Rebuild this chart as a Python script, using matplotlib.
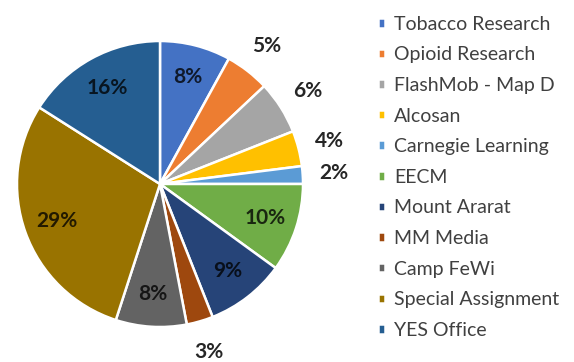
import numpy as np
import matplotlib.pyplot as plt
from matplotlib.colors import to_rgb

labels = ['Tobacco Research', 'Opioid Research', 'FlashMob - Map D', 'Alcosan',
          'Carnegie Learning', 'EECM', 'Mount Ararat', 'MM Media', 'Camp FeWi',
          'Special Assignment', 'YES Office']
values = [8, 5, 6, 4, 2, 10, 9, 3, 8, 29, 16]
colors = ['#4472C4', '#ED7D31', '#A5A5A5', '#FFC000', '#5B9BD5', '#70AD47',
          '#264478', '#9E480E', '#636363', '#997300', '#255E91']

fig = plt.figure(figsize=(5.74, 3.62), dpi=100)
# pie centre at (160, 184) px, radius 143 px
ax = fig.add_axes([17 / 574, (362 - 184 - 143) / 362, 286 / 574, 286 / 362])

wedges, _ = ax.pie(values, colors=colors, startangle=90, counterclock=False,
                   wedgeprops=dict(edgecolor='white', linewidth=1.8))
ax.set_xlim(-1, 1)
ax.set_ylim(-1, 1)
ax.set_aspect('equal')

for w, v, c in zip(wedges, values, colors):
    ang = np.deg2rad((w.theta1 + w.theta2) / 2)
    if v >= 8:
        d = 0.77
        tc = tuple(np.array(to_rgb(c)) * 0.22)
    else:
        d = 1.22
        tc = '#262626'
    ax.text(d * np.cos(ang), d * np.sin(ang), f'{v}%', ha='center', va='center',
            fontsize=15, fontweight='bold', family='Lato', color=tc)

leg = fig.legend(wedges, labels, loc='upper left', bbox_to_anchor=(370 / 574, 1 - 8 / 362),
                 frameon=False, handlelength=0.38, handleheight=0.38, handletextpad=0.45,
                 labelspacing=0.70, borderaxespad=0, prop=dict(family='Lato', size=14))
for t in leg.get_texts():
    t.set_color('#404040')

fig.savefig('out.png', dpi=100)
